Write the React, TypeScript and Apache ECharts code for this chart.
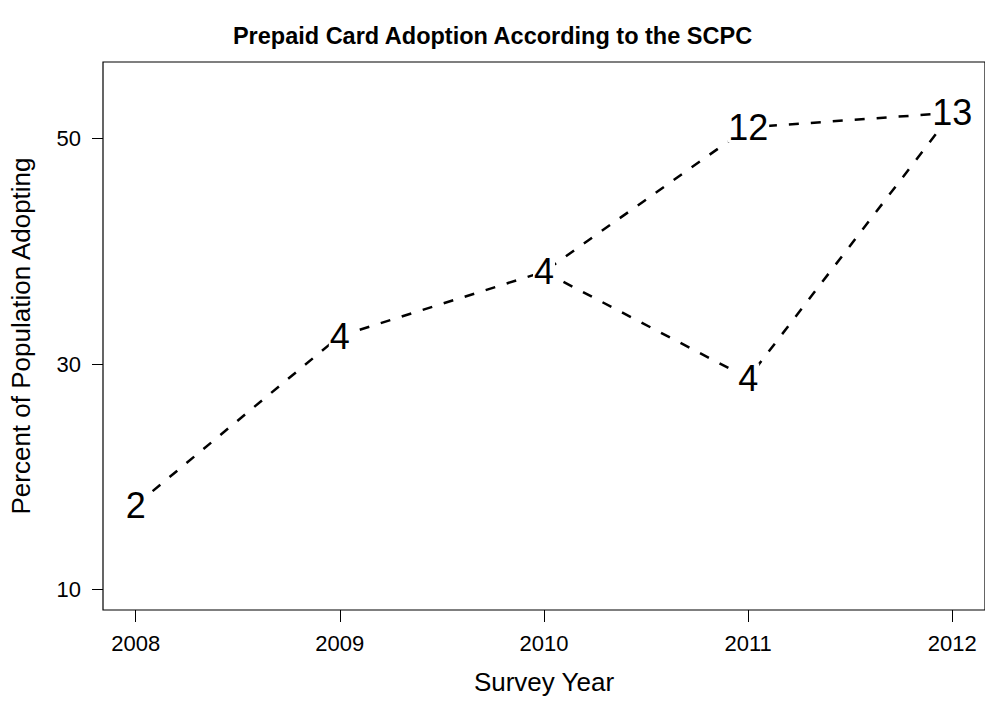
import React, { useEffect, useRef } from "react";
import * as echarts from "echarts";

const chartTitle = "Prepaid Card Adoption According to the SCPC";
const xTitle = "Survey Year";
const yTitle = "Percent of Population Adopting";

const years = [2008, 2009, 2010, 2011, 2012];
const mainPct = [17.5, 32.5, 38.2, 51.0, 52.3];
const mainLabels = ["2", "4", "4", "12", "13"];

const altYears = [2010, 2011, 2012];
const altPct = [38.2, 28.75, 52.3];
const altLabels = ["4", "4", "13"];

const xTicks = [2008, 2009, 2010, 2011, 2012];
const yTicks = [10, 30, 50];

const FONT = "'Liberation Sans', Arial, Helvetica, sans-serif";

export default function App() {
  const ref = useRef<HTMLDivElement>(null);

  useEffect(() => {
    if (!ref.current) return;
    const chart = echarts.init(ref.current, undefined, { renderer: "svg" });

    const mainData = years.map((y, i) => [y, mainPct[i]]);
    const altData = altYears.map((y, i) => [y, altPct[i]]);

    const labelPoints: any[] = years.map((y, i) => [y, mainPct[i], mainLabels[i]]);
    altYears.forEach((y, i) => {
      const dup = labelPoints.some((p) => p[0] === y && p[1] === altPct[i]);
      if (!dup) labelPoints.push([y, altPct[i], altLabels[i]]);
    });

    const lineStyle = { color: "#000", width: 2.5, type: [10, 12] as any, cap: "butt" as any };

    chart.setOption({
      animation: false,
      backgroundColor: "#fff",
      title: {
        text: chartTitle,
        left: "center",
        top: 19,
        textStyle: { fontFamily: FONT, fontSize: 23.5, fontWeight: "bold", color: "#000" },
      },
      grid: {
        show: true,
        left: 102,
        top: 62,
        width: 884,
        height: 548,
        borderColor: "#000",
        borderWidth: 1.2,
        backgroundColor: "transparent",
      },
      xAxis: {
        type: "value",
        min: 2007.84,
        max: 2012.16,
        name: xTitle,
        nameLocation: "middle",
        nameGap: 59,
        nameTextStyle: { fontFamily: FONT, fontSize: 26, color: "#000" },
        axisLine: { show: false },
        splitLine: { show: false },
        axisTick: {
          show: true,
          inside: false,
          length: 12,
          customValues: xTicks,
          lineStyle: { color: "#000", width: 1 },
        },
        axisLabel: {
          show: true,
          customValues: xTicks,
          margin: 22,
          fontFamily: FONT,
          fontSize: 22,
          color: "#000",
          formatter: (v: number) => String(v),
        },
      },
      yAxis: {
        type: "value",
        min: 8.2,
        max: 56.8,
        name: yTitle,
        nameLocation: "middle",
        nameGap: 69,
        nameTextStyle: { fontFamily: FONT, fontSize: 26, color: "#000" },
        axisLine: { show: false },
        splitLine: { show: false },
        axisTick: {
          show: true,
          inside: false,
          length: 11,
          customValues: yTicks,
          lineStyle: { color: "#000", width: 1 },
        },
        axisLabel: {
          show: true,
          customValues: yTicks,
          margin: 22,
          fontFamily: FONT,
          fontSize: 22,
          color: "#000",
          formatter: (v: number) => String(v),
        },
      },
      series: [
        {
          type: "line",
          name: "survey",
          data: mainData,
          symbol: "none",
          lineStyle,
          z: 2,
        },
        {
          type: "line",
          name: "survey-alt",
          data: altData,
          symbol: "none",
          lineStyle,
          z: 2,
        },
        {
          type: "scatter",
          name: "labels",
          data: labelPoints,
          symbol: "circle",
          symbolSize: 1,
          itemStyle: { color: "#fff", opacity: 1 },
          z: 5,
          label: {
            show: true,
            position: "inside",
            formatter: (p: any) => p.data[2],
            fontFamily: FONT,
            fontSize: 36,
            color: "#000",
            opacity: 1,
            backgroundColor: "#fff",
            padding: [0, 1],
            lineHeight: 30,
          },
        },
      ],
    });

    return () => chart.dispose();
  }, []);

  return (
    <div
      ref={ref}
      style={{ position: "fixed", left: 0, top: 0, width: 985, height: 703, background: "#fff" }}
    />
  );
}
